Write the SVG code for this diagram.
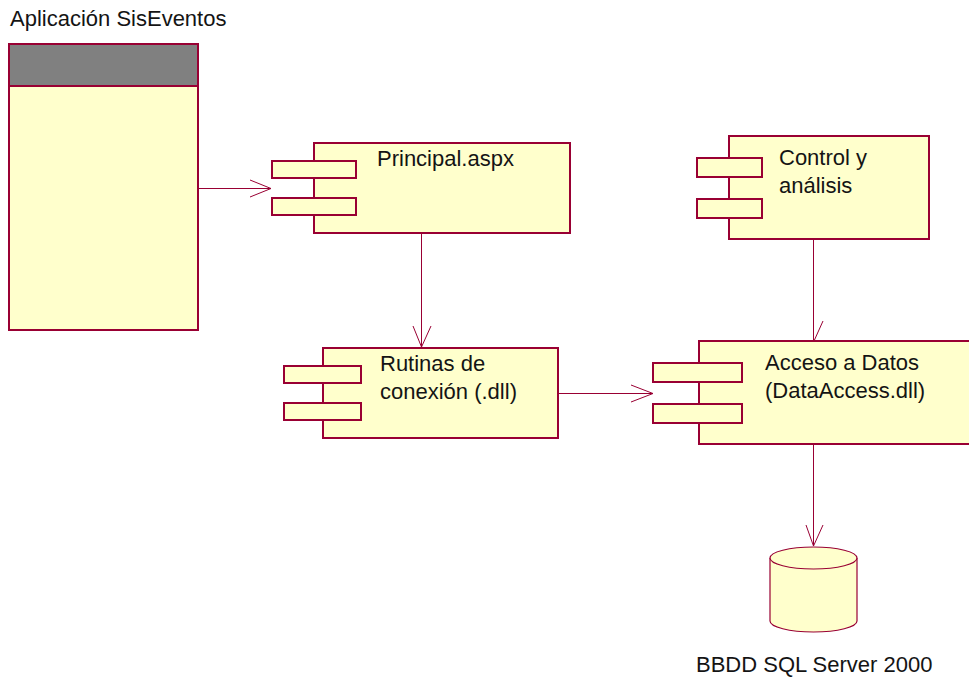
<svg xmlns="http://www.w3.org/2000/svg" width="969" height="677" viewBox="0 0 969 677">
<style>
.box{fill:#FFFFCC;stroke:#990033;stroke-width:2}
.conn{fill:none;stroke:#990033;stroke-width:1}
.t{font-family:"Liberation Sans",Arial,sans-serif;font-size:22px;fill:#141414}
</style>
<rect width="969" height="677" fill="#ffffff"/>
<g id="app">
<text class="t" x="10" y="26">Aplicación SisEventos</text>
<rect class="box" x="9" y="44" width="189" height="286"/>
<rect x="9" y="44" width="189" height="42" fill="#808080" stroke="#990033" stroke-width="2"/>
</g>
<g id="principal">
<rect class="box" x="314" y="143" width="256" height="90"/>
<rect class="box" x="272" y="161" width="84" height="17"/>
<rect class="box" x="272" y="198" width="84" height="17"/>
<text class="t" x="377" y="166">Principal.aspx</text>
</g>
<g id="rutinas">
<rect class="box" x="323" y="348" width="235" height="90"/>
<rect class="box" x="284" y="366" width="77" height="17"/>
<rect class="box" x="284" y="403" width="77" height="17"/>
<text class="t" x="380" y="371">Rutinas de</text>
<text class="t" x="380" y="399">conexión (.dll)</text>
</g>
<g id="control">
<rect class="box" x="729" y="136" width="200" height="103"/>
<rect class="box" x="697" y="158" width="65" height="19"/>
<rect class="box" x="697" y="199" width="65" height="19"/>
<text class="t" x="779" y="165">Control y</text>
<text class="t" x="779" y="193">análisis</text>
</g>
<g id="acceso">
<rect class="box" x="699" y="341" width="280" height="103"/>
<rect class="box" x="653" y="363" width="89" height="19"/>
<rect class="box" x="653" y="404" width="89" height="19"/>
<text class="t" x="765" y="370">Acceso a Datos</text>
<text class="t" x="765" y="398">(DataAccess.dll)</text>
</g>
<g id="bbdd">
<path d="M770,558 L770,621 A43.5,11 0 0 0 857,621 L857,558" fill="#FFFFCC" stroke="#990033" stroke-width="1.2"/>
<ellipse cx="813.5" cy="558" rx="43.5" ry="11" fill="#FFFFCC" stroke="#990033" stroke-width="1.2"/>
<text class="t" x="696" y="672">BBDD SQL Server 2000</text>
</g>
<g id="connectors">
<path class="conn" d="M198,188.5 H271 M250,180 L271,188.5 L250,197"/>
<path class="conn" d="M421.5,233 V347 M413,326 L421.5,347 L431,326"/>
<path class="conn" d="M558,393.5 H653 M631,385 L653,393.5 L631,402"/>
<path class="conn" d="M813.5,239 V341 M823,321 L814,341"/>
<path class="conn" d="M813.5,444 V546 M806,525 L813.5,546 L823,525"/>
</g>
</svg>
